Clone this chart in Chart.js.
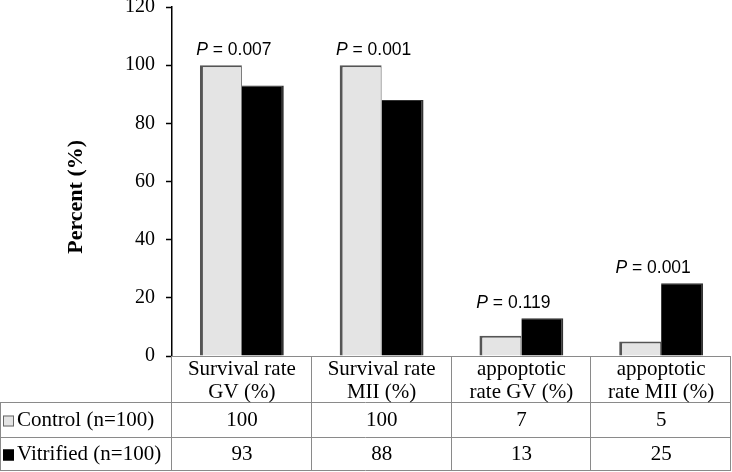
<!DOCTYPE html>
<html><head><meta charset="utf-8">
<script src="https://cdn.jsdelivr.net/npm/chart.js@4/dist/chart.umd.min.js"></script>
<style>html,body{margin:0;padding:0;background:#fff}#wrap{width:732px;height:472px}</style>
</head><body><div id="wrap"><canvas id="c" width="732" height="472"></canvas></div>
<script>
const categories = [["Survival rate","GV (%)"],["Survival rate","MII (%)"],["appoptotic","rate GV (%)"],["appoptotic","rate MII (%)"]];
const controlValues = [100, 100, 7, 5];
const vitrifiedValues = [93, 88, 13, 25];
const pValues = ["0.007", "0.001", "0.119", "0.001"];
const seriesNames = ["Control (n=100)", "Vitrified (n=100)"];
const yTicks = [0, 20, 40, 60, 80, 100, 120];

const SERIF = '"Liberation Serif","Times New Roman",serif';
const SANS = '"Liberation Sans",Arial,sans-serif';

const tablePlugin = {
  id: 'tablePlugin',
  afterDraw(chart) {
    const ctx = chart.ctx, ca = chart.chartArea, xs = chart.scales.x, ys = chart.scales.y;
    const top = ca.bottom, r1 = top + 46, r2 = r1 + 35, r3 = r2 + 33;
    const right = ca.right;
    ctx.save();
    // P-value labels
    ctx.fillStyle = '#000';
    ctx.textBaseline = 'alphabetic';
    const pf = 17.5;
    for (let i = 0; i < categories.length; i++) {
      const cx = xs.getPixelForValue(i) - 8;
      const maxV = Math.max(controlValues[i], vitrifiedValues[i]);
      const y = ys.getPixelForValue(maxV) - 10;
      ctx.font = 'italic ' + pf + 'px ' + SANS;
      const pW = ctx.measureText('P').width;
      ctx.font = pf + 'px ' + SANS;
      const rest = ' = ' + pValues[i];
      const rW = ctx.measureText(rest).width;
      const x0 = cx - (pW + rW) / 2;
      ctx.textAlign = 'left';
      ctx.font = 'italic ' + pf + 'px ' + SANS;
      ctx.fillText('P', x0, y);
      ctx.font = pf + 'px ' + SANS;
      ctx.fillText(rest, x0 + pW, y);
    }
    // table lines
    ctx.strokeStyle = '#8a8a8a';
    ctx.lineWidth = 1;
    ctx.beginPath();
    ctx.moveTo(ca.left, top + 0.5); ctx.lineTo(right, top + 0.5);
    [r1, r2, r3].forEach(y => { ctx.moveTo(0, y + 0.5); ctx.lineTo(right, y + 0.5); });
    ctx.moveTo(0.5, r1); ctx.lineTo(0.5, r3);
    const n = categories.length;
    const colW = (right - ca.left) / n;
    for (let i = 0; i <= n; i++) {
      const x = Math.round(ca.left + i * colW) - 0.5;
      ctx.moveTo(x, top); ctx.lineTo(x, r3);
    }
    ctx.stroke();
    // header text
    ctx.fillStyle = '#000';
    ctx.font = '21px ' + SERIF;
    ctx.textAlign = 'center';
    ctx.textBaseline = 'middle';
    for (let i = 0; i < n; i++) {
      const cx = xs.getPixelForValue(i);
      ctx.fillText(categories[i][0], cx, top + 13);
      ctx.fillText(categories[i][1], cx, top + 36);
      ctx.fillText(String(controlValues[i]), cx, (r1 + r2) / 2 + 1);
      ctx.fillText(String(vitrifiedValues[i]), cx, (r2 + r3) / 2 + 1);
    }
    // legend keys
    ctx.textAlign = 'left';
    const rows = [[r1, r2, '#e4e4e4', '#666'], [r2, r3, '#000', '#000']];
    rows.forEach((rw, k) => {
      const my = (rw[0] + rw[1]) / 2 + 1;
      ctx.fillStyle = rw[2];
      ctx.fillRect(3, my - 5, 11, 11);
      ctx.strokeStyle = rw[3];
      ctx.strokeRect(3.5, my - 4.5, 10, 10);
      ctx.fillStyle = '#000';
      ctx.fillText(seriesNames[k], 17, my);
    });
    // y-axis title
    ctx.save();
    ctx.translate(76, ca.top + (ca.bottom - ca.top) * 0.544);
    ctx.rotate(-Math.PI / 2);
    ctx.textAlign = 'center';
    ctx.textBaseline = 'middle';
    ctx.font = 'bold 22px ' + SERIF;
    ctx.fillText('Percent (%)', 0, 0);
    ctx.restore();
    ctx.restore();
  }
};

new Chart(document.getElementById('c'), {
  type: 'bar',
  data: {
    labels: categories.map(c => c.join(' ')),
    datasets: [
      { label: seriesNames[0], data: controlValues, backgroundColor: '#e4e4e4', borderColor: '#555',
        borderWidth: { left: 3, top: 2, right: 1, bottom: 0 }, borderSkipped: false,
        barPercentage: 1, categoryPercentage: 0.6 },
      { label: seriesNames[1], data: vitrifiedValues, backgroundColor: '#000', borderColor: '#333',
        borderWidth: { left: 0, top: 1, right: 2, bottom: 0 }, borderSkipped: false,
        barPercentage: 1, categoryPercentage: 0.6 }
    ]
  },
  plugins: [tablePlugin],
  options: {
    responsive: false,
    animation: false,
    layout: { padding: { top: 7, right: 1, bottom: 116, left: 0 } },
    plugins: { legend: { display: false }, tooltip: { enabled: false } },
    scales: {
      x: { display: false },
      y: {
        min: 0, max: 120,
        afterFit(s) { s.width = 172; s.paddingTop = 0; s.paddingBottom = 0; },
        afterBuildTicks(s) { s.ticks = yTicks.map(v => ({ value: v })); },
        grid: { drawOnChartArea: false, drawTicks: true, tickLength: 6, tickColor: '#000', tickWidth: 1.5 },
        border: { display: true, color: '#000', width: 1.5 },
        ticks: { color: '#000', padding: 11, font: { family: SERIF, size: 20 } }
      }
    }
  }
});
</script></body></html>
